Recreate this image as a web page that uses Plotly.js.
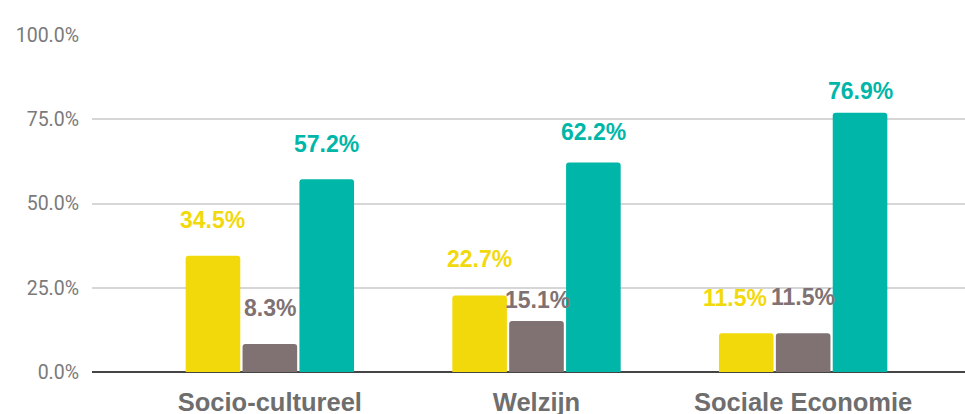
<!DOCTYPE html>
<html><head><meta charset="utf-8">
<script src="https://cdn.plot.ly/plotly-3.0.1.min.js"></script>
<style>html,body{margin:0;padding:0;background:#fff}#c{width:965px;height:414px}</style>
</head><body><div id="c"></div>
<script>
var categories = ["Socio-cultureel", "Welzijn", "Sociale Economie"];
var seriesA = [34.5, 22.7, 11.5];
var seriesB = [8.3, 15.1, 11.5];
var seriesC = [57.2, 62.2, 76.9];
var yTicks = [0, 25, 50, 75, 100];

var colors = ["#f2d90b", "#807172", "#00b6a8"];
var all = [seriesA, seriesB, seriesC];
// label placement tweaks (pixel offsets above bar top), matching the reference layout
var labelLift = [[36, 36.5, 35.5], [36, 21, 36], [35, 30, 22]];
var labelNudgeX = [[0, 0, -11], [0, 1, 0], [0, 0, 0]];
var traces = all.map(function(v, i){
  return {type:"bar", x:categories, y:v, marker:{color:colors[i], cornerradius:3}, hoverinfo:"none", showlegend:false};
});
var slotPx = 57;
var ann = [];
all.forEach(function(v, i){
  v.forEach(function(val, j){
    ann.push({x:categories[j], y:val, xref:"x", yref:"y", text:val.toFixed(1)+"%", showarrow:false,
      xshift:(i-1)*slotPx + labelNudgeX[i][j], yshift:labelLift[i][j], yanchor:"middle",
      font:{family:"Liberation Sans, Arial, sans-serif", size:23, color:colors[i], weight:"bold"}});
  });
});
var layout = {
  width:965, height:414,
  margin:{l:92, r:0, t:35, b:42},
  paper_bgcolor:"#fff", plot_bgcolor:"#fff",
  barmode:"group", bargap:0.36, bargroupgap:0.04,
  xaxis:{range:[-0.667, 2.607], showgrid:false, zeroline:false, showline:false, ticks:"",
    ticklabelstandoff:12,
    tickfont:{family:"Liberation Sans, Arial, sans-serif", size:25.5, color:"#6e6e6e", weight:"bold"}},
  yaxis:{range:[0,100], tickvals:yTicks, ticktext:yTicks.map(function(t){return t.toFixed(1)+"%";}),
    showgrid:true, gridcolor:"#d6d6d6", gridwidth:2, zeroline:true, zerolinecolor:"#444", zerolinewidth:2,
    ticks:"", ticklabelstandoff:12,
    tickfont:{family:"Roboto, sans-serif", size:19.5, color:"#7a7a7a"}},
  annotations:ann
};
Plotly.newPlot("c", traces, layout, {staticPlot:true, displayModeBar:false});
</script></body></html>
